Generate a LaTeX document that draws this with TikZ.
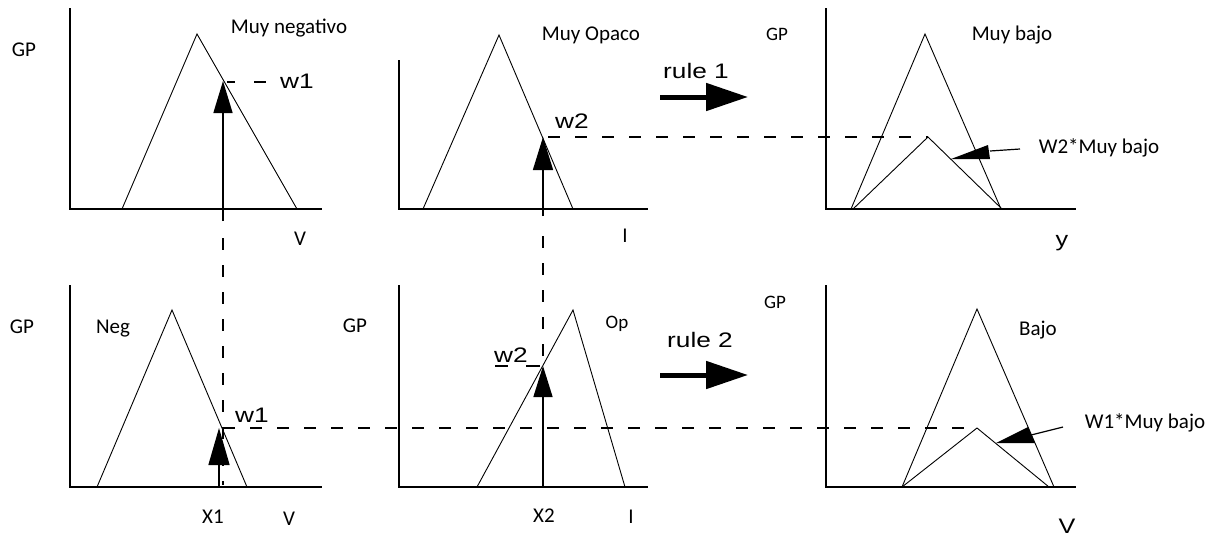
\documentclass[tikz,border=0pt]{standalone}
\usepackage{fontspec}
\setmainfont{Carlito}
\newfontfamily\arialf{Liberation Sans}
\usetikzlibrary{arrows.meta}
\begin{document}
\begin{tikzpicture}[x=1pt,y=-1pt,
  axis/.style={line width=1.8pt},
  mf/.style={line width=0.9pt},
  guide/.style={line width=1.3pt, dash pattern=on 12pt off 15pt},
  cut/.style={line width=1.5pt, -{Triangle[length=32pt,width=19pt]}},
  rulearrow/.style={line width=5pt, -{Triangle[length=42pt,width=27pt]}},
  lbl/.style={font=\fontsize{21}{21}\selectfont, inner sep=0pt, anchor=base},
  slbl/.style={font=\fontsize{19}{19}\selectfont, inner sep=0pt, anchor=base},
  albl/.style={font=\arialf\fontsize{21}{21}\selectfont, inner sep=0pt, anchor=base},
]
\fill[white] (0,0) rectangle (1224,536);
\useasboundingbox (0,0) rectangle (1224,536);

% ---------- top-left panel ----------
\coordinate (Ay) at (70,8); \coordinate (Ao) at (70,209); \coordinate (Ax) at (322,209);
\coordinate (Al) at (122,209); \coordinate (Ap) at (197,34); \coordinate (Ar) at (297,209);
\coordinate (Aw) at (223,81); \coordinate (Ab) at (223,221);
\draw[axis] (Ay) -- (Ao) -- (Ax);
\draw[mf] (Al) -- (Ap) -- (Ar);
\draw[cut] (Ab) -- (Aw);
\draw[line width=1.3pt] (227,82) -- (235,82) (254,82) -- (266,82);

% ---------- top-middle panel ----------
\coordinate (By) at (399,60); \coordinate (Bo) at (399,209); \coordinate (Bx) at (648,209);
\coordinate (Bl) at (423,209); \coordinate (Bp) at (499,35); \coordinate (Br) at (573,209);
\coordinate (Bw) at (543,137); \coordinate (Bb) at (543,216);
\draw[axis] (By) -- (Bo) -- (Bx);
\draw[mf] (Bl) -- (Bp) -- (Br);
\draw[cut,-{Triangle[length=33pt,width=20pt]}] (Bb) -- (Bw);

% ---------- top-right panel ----------
\coordinate (Cy) at (826,8); \coordinate (Co) at (826,209); \coordinate (Cx) at (1076,209);
\coordinate (Cl) at (851,209); \coordinate (Cp) at (925,34); \coordinate (Cr) at (1001,209);
\coordinate (Csl) at (853,209); \coordinate (Csp) at (928,137); \coordinate (Csr) at (1002,209);
\draw[axis] (Cy) -- (Co) -- (Cx);
\draw[mf] (Cl) -- (Cp) -- (Cr);
\draw[mf] (Csl) -- (Csp) -- (Csr);
\fill (951,159) -- (988,145) -- (990,159) -- cycle;
\draw[line width=1.2pt] (990,151) -- (1020,149);

% ---------- bottom-left panel ----------
\coordinate (Dy) at (70,285); \coordinate (Do) at (70,487); \coordinate (Dx) at (322,487);
\coordinate (Dl) at (97,487); \coordinate (Dp) at (172,310); \coordinate (Dr) at (247,487);
\coordinate (Dw) at (223,428); \coordinate (Da) at (219,428); \coordinate (Db) at (219,487);
\draw[axis] (Dy) -- (Do) -- (Dx);
\draw[mf] (Dl) -- (Dp) -- (Dr);
\draw[cut,-{Triangle[length=37pt,width=21pt]}] (Db) -- (Da);

% ---------- bottom-middle panel ----------
\coordinate (Ey) at (399,285); \coordinate (Eo) at (399,487); \coordinate (Ex) at (648,487);
\coordinate (El) at (477,487); \coordinate (Ep) at (573,310); \coordinate (Er) at (625,487);
\coordinate (Ew) at (543,366); \coordinate (Eb) at (543,487);
\draw[axis] (Ey) -- (Eo) -- (Ex);
\draw[mf] (El) -- (Ep) -- (Er);
\draw[cut,-{Triangle[length=31pt,width=19pt]}] (Eb) -- (Ew);
\draw[line width=1.2pt] (495,366) -- (508,366) (526,366) -- (540,366);

% ---------- bottom-right panel ----------
\coordinate (Fy) at (826,285); \coordinate (Fo) at (826,487); \coordinate (Fx) at (1076,487);
\coordinate (Fl) at (902,487); \coordinate (Fp) at (977,309); \coordinate (Fr) at (1054,487);
\coordinate (Fsp) at (977,428); \coordinate (Fsr) at (1049,487);
\draw[axis] (Fy) -- (Fo) -- (Fx);
\draw[mf] (Fl) -- (Fp) -- (Fr);
\draw[mf] (Fl) -- (Fsp) -- (Fsr);
\fill (996,443) -- (1028,427) -- (1035,443) -- cycle;
\draw[line width=1.2pt] (1031,435) -- (1063,427);

% ---------- dashed guides ----------
\coordinate (Ad) at (223,238);
\coordinate (Dd) at (223,485);
\coordinate (Bd) at (543,236);
\draw[guide] (Ad) -- (Dd);
\draw[guide] (Bd) -- (Ew);
\draw[guide] (Bw) ++(5,0) -- (Csp);
\draw[guide] (Dw) -- (Fsp);

% ---------- rule arrows ----------
\coordinate (R1a) at (660,97); \coordinate (R1b) at (748,97);
\coordinate (R2a) at (660,375); \coordinate (R2b) at (748,375);
\draw[rulearrow] (R1a) -- (R1b);
\draw[rulearrow] (R2a) -- (R2b);

% ---------- labels ----------
\node[lbl] (gp1) at (24,56) {GP};
\node[lbl] (gp2) at (22,333) {GP};
\node[lbl] (gp3) at (355,332) {GP};
\node[slbl] (gp4) at (777,40) {GP};
\node[slbl] (gp5) at (775,308) {GP};
\node[lbl] (mneg) at (289,33) {Muy negativo};
\node[lbl] (mopa) at (591,40) {Muy Opaco};
\node[lbl] (mbaj) at (1012,40) {Muy bajo};
\node[lbl] (baj) at (1038,335) {Bajo};
\node[lbl] (neg) at (113,333) {Neg};
\node[slbl] (op) at (617,328) {Op};
\node[lbl] (w2mb) at (1099,153) {W2*Muy bajo};
\node[lbl] (w1mb) at (1145,428) {W1*Muy bajo};
\node[lbl] (vA) at (300,245) {V};
\node[lbl] (iB) at (625,242) {I};
\node[lbl] (x1) at (213,523) {X1};
\node[lbl] (vD) at (289,525) {V};
\node[lbl] (x2) at (544,522) {X2};
\node[lbl] (iE) at (631,523) {I};
\node[albl] (r1) at (696,78) {\scalebox{1.25}[1]{rule 1}};
\node[albl] (r2) at (700,347) {\scalebox{1.25}[1]{rule 2}};
\node[albl] (w1t) at (297,88) {\scalebox{1.25}[1]{w1}};
\node[albl] (w2t) at (572,128) {\scalebox{1.25}[1]{w2}};
\node[albl] (w1b) at (252,422) {\scalebox{1.25}[1]{w1}};
\node[albl] (w2b) at (511,362) {\scalebox{1.25}[1]{w2}};
\node[albl] (yC) at (1062,246) {\scalebox{1.2}[1]{y}};
\node[albl] (vF) at (1067,533) {\scalebox{1.2}[1]{V}};
\end{tikzpicture}
\end{document}
